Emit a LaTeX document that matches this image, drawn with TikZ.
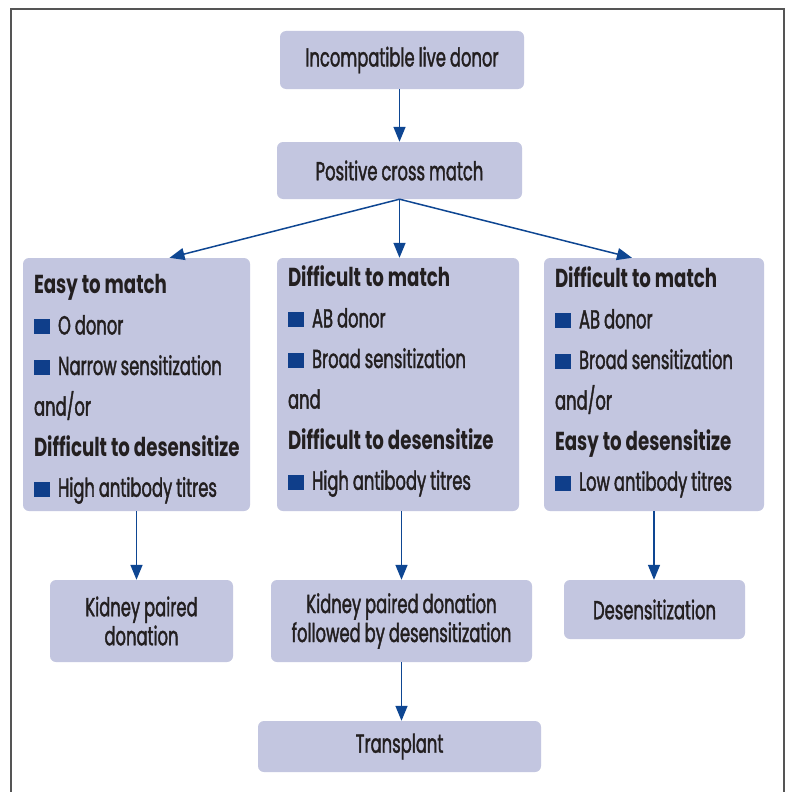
\documentclass[tikz,border=0pt]{standalone}
\usepackage{fontspec}
\setmainfont{Poppins}[
  UprightFeatures={FakeStretch=0.63, FakeBold=1.5, WordSpace=0.9},
  BoldFeatures={FakeStretch=0.7, WordSpace=0.9}]
\usetikzlibrary{calc,arrows.meta}
\definecolor{boxfill}{RGB}{195,198,224}
\definecolor{arrowblue}{RGB}{14,70,146}
\definecolor{bulletblue}{RGB}{15,62,138}
\definecolor{inktext}{RGB}{35,31,32}
\definecolor{framegray}{RGB}{85,85,85}
\newcommand{\bul}{{\color{bulletblue}\rule{16pt}{15pt}}\hspace{8pt}}
% use the font's own interword space inside ragged nodes
\newcommand{\natspace}{\spaceskip=\fontdimen2\font plus \fontdimen3\font minus \fontdimen4\font\relax}
\tikzset{
  flowbox/.style={draw=none, fill=boxfill, rounded corners=6pt, inner sep=0pt,
    text=inktext, align=center, font=\fontsize{26}{29}\selectfont},
  listtext/.style={anchor=base west, inner sep=0pt, text=inktext, text width=230pt,
    align=left, font=\fontsize{26}{40.6}\selectfont},
  arr/.style={draw=arrowblue, line width=1.5pt,
    -{Triangle[length=15pt, width=12pt]}},
  frameline/.style={draw=framegray, line width=2pt}
}
\begin{document}
\begin{tikzpicture}[x=1pt, y=-1pt]
  \path[fill=white, use as bounding box] (0,0) rectangle (790,792);
  % outer frame (open at the bottom)
  \draw[frameline] (11,792) -- (11,9) -- (784,9) -- (784,792);

  % main chain
  \node[flowbox, minimum width=244pt, minimum height=58pt] (donor) at (402,60) {\natspace Incompatible live donor};
  \node[flowbox, minimum width=245pt, minimum height=57pt] (cross) at (399.5,170.5) {\natspace Positive cross match};

  % three categories
  \node[flowbox, minimum width=227pt, minimum height=253pt] (left) at (136.5,384.5) {};
  \node[flowbox, minimum width=242pt, minimum height=253pt] (mid) at (398,384.5) {};
  \node[flowbox, minimum width=220pt, minimum height=253pt] (right) at (654,384.5) {};

  \node[listtext] (lefttxt) at ($(left.north west)+(11,36)$)
    {\natspace\textbf{Easy to match}\\ \bul O donor\\ \bul Narrow sensitization\\ and/or\\ \textbf{Difficult to desensitize}\\ \bul High antibody titres};
  \node[listtext] (midtxt) at ($(mid.north west)+(11,29)$)
    {\natspace\textbf{Difficult to match}\\ \bul AB donor\\ \bul Broad sensitization\\ and\\ \textbf{Difficult to desensitize}\\ \bul High antibody titres};
  \node[listtext] (righttxt) at ($(right.north west)+(11,30)$)
    {\natspace\textbf{Difficult to match}\\ \bul AB donor\\ \bul Broad sensitization\\ and/or\\ \textbf{Easy to desensitize}\\ \bul Low antibody titres};

  % outcomes
  \node[flowbox, minimum width=183pt, minimum height=82pt] (kpd) at (141.5,621) {\natspace Kidney paired\\donation};
  \node[flowbox, minimum width=261pt, minimum height=82pt] (kpdd) at (401.5,621) {\natspace Kidney paired donation\\followed by desensitization};
  \node[flowbox, minimum width=181pt, minimum height=59pt] (desens) at (654.5,609.5) {Desensitization};
  \node[flowbox, minimum width=283pt, minimum height=51pt] (tx) at (399.5,746.5) {Transplant};

  % connectors
  \draw[arr] (donor.south -| cross.north) -- (cross.north);
  \draw[arr] (cross.south) -- ($(left.north)+(33,0)$);
  \draw[arr] (cross.south) -- (cross.south |- mid.north);
  \draw[arr] (cross.south) -- ($(right.north)+(-22,0)$);
  \draw[arr] (left.south) -- (left.south |- kpd.north);
  \draw[arr] (kpdd.north |- mid.south) -- (kpdd.north);
  \draw[arr] (right.south) -- (right.south |- desens.north);
  \draw[arr] (kpdd.south) -- (kpdd.south |- tx.north);
\end{tikzpicture}
\end{document}
